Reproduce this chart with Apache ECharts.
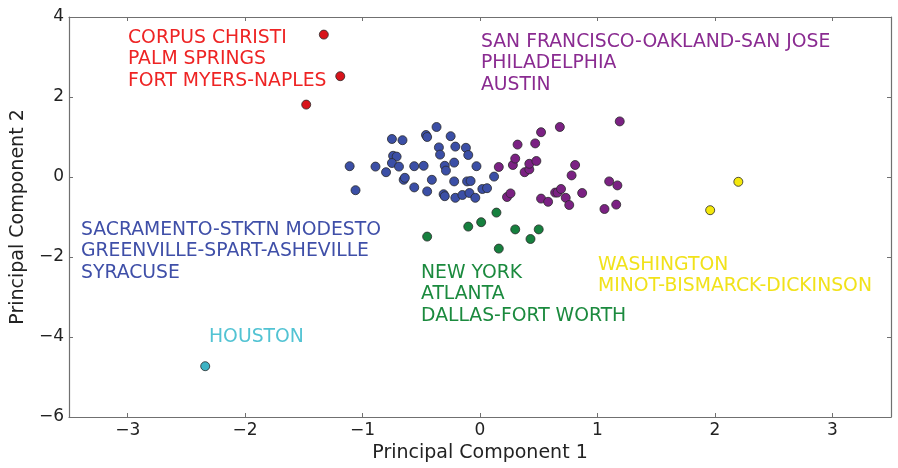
<!DOCTYPE html>
<html>
<head>
<meta charset="utf-8">
<script src="https://cdn.jsdelivr.net/npm/echarts@6/dist/echarts.min.js"></script>
<style>
  html, body { margin: 0; padding: 0; background: #fff; }
  #chart { width: 898px; height: 468px; }
</style>
</head>
<body>
<div id="chart"></div>
<script>
// PCA scores of metro areas, grouped by cluster
const redPts = [[-1.33, 3.56], [-1.19, 2.52], [-1.48, 1.81]];
const cyanPts = [[-2.34, -4.73]];
const yellowPts = [[2.20, -0.12], [1.96, -0.83]];
const bluePts = [
  [-1.11, 0.27], [-1.06, -0.33], [-0.89, 0.26], [-0.80, 0.12], [-0.75, 0.95],
  [-0.66, 0.92], [-0.74, 0.53], [-0.71, 0.51], [-0.75, 0.35], [-0.69, 0.26],
  [-0.65, -0.07], [-0.64, -0.02], [-0.56, 0.27], [-0.56, -0.26], [-0.48, 0.28],
  [-0.46, 1.05], [-0.45, 1.00], [-0.45, -0.36], [-0.41, -0.07], [-0.37, 1.25],
  [-0.35, 0.74], [-0.34, 0.56], [-0.31, -0.43], [-0.30, -0.48], [-0.30, 0.28],
  [-0.29, 0.16], [-0.25, 1.02], [-0.22, 0.36], [-0.22, -0.11], [-0.21, -0.52],
  [-0.21, 0.76], [-0.15, -0.45], [-0.12, 0.73], [-0.10, 0.55], [-0.11, -0.11],
  [-0.08, -0.10], [-0.09, -0.40], [-0.04, -0.52], [-0.03, 0.27], [0.02, -0.30],
  [0.06, -0.28], [0.12, 0.01]
];
const purplePts = [
  [0.16, 0.25], [0.23, -0.50], [0.26, -0.41], [0.28, 0.30], [0.30, 0.46],
  [0.32, 0.81], [0.38, 0.12], [0.42, 0.19], [0.42, 0.33], [0.48, 0.40],
  [0.47, 0.84], [0.52, 1.12], [0.52, -0.54], [0.58, -0.62], [0.64, -0.39],
  [0.66, -0.39], [0.68, 1.25], [0.69, -0.30], [0.73, -0.52], [0.76, -0.70],
  [0.78, 0.04], [0.81, 0.30], [0.87, -0.40], [1.06, -0.80], [1.10, -0.11],
  [1.17, -0.21], [1.16, -0.69], [1.19, 1.39]
];
const greenPts = [
  [0.14, -0.89], [0.01, -1.13], [-0.10, -1.24], [-0.45, -1.49], [0.30, -1.31],
  [0.50, -1.31], [0.43, -1.55], [0.16, -1.79]
];

// Cluster captions
const redNames = ['CORPUS CHRISTI', 'PALM SPRINGS', 'FORT MYERS-NAPLES'];
const purpleNames = ['SAN FRANCISCO-OAKLAND-SAN JOSE', 'PHILADELPHIA', 'AUSTIN'];
const blueNames = ['SACRAMENTO-STKTN MODESTO', 'GREENVILLE-SPART-ASHEVILLE', 'SYRACUSE'];
const greenNames = ['NEW YORK', 'ATLANTA', 'DALLAS-FORT WORTH'];
const yellowNames = ['WASHINGTON', 'MINOT-BISMARCK-DICKINSON'];
const cyanNames = ['HOUSTON'];

const xTicks = [-3, -2, -1, 0, 1, 2, 3];
const yTicks = [-6, -4, -2, 0, 2, 4];

const FONT = 'DejaVu Sans';
const minus = v => String(v).replace('-', '\u2212');

const chart = echarts.init(document.getElementById('chart'), null, { renderer: 'canvas' });

function scatter(data, color) {
  return {
    type: 'scatter',
    data: data,
    symbolSize: 9,
    itemStyle: { color: color, borderColor: '#2a2a2a', borderWidth: 0.8, opacity: 1 },
    xAxisIndex: 0, yAxisIndex: 0,
    silent: true
  };
}

function caption(lines, left, top, color) {
  return {
    type: 'text',
    left: left, top: top,
    style: {
      text: lines.join('\n'),
      fill: color,
      font: '18.8px "' + FONT + '"',
      lineHeight: 21.5
    }
  };
}

const frameAxis = {
  axisLine: { show: true, onZero: false, lineStyle: { color: '#707070', width: 1.2 } },
  axisTick: { show: true, inside: true, length: 4, lineStyle: { color: '#707070' } },
  splitLine: { show: false }
};

chart.setOption({
  animation: false,
  backgroundColor: '#fff',
  grid: { left: 69, right: 7, top: 17, bottom: 45, containLabel: false },
  xAxis: [
    Object.assign({
      type: 'value', min: -3.5, max: 3.5, interval: 1, position: 'bottom',
      name: 'Principal Component 1', nameLocation: 'middle', nameGap: 27,
      nameTextStyle: { fontFamily: FONT, fontSize: 19, color: '#222' },
      axisLabel: {
        fontFamily: FONT, fontSize: 17, color: '#222', margin: 5,
        customValues: xTicks, formatter: minus
      }
    }, frameAxis, { axisTick: Object.assign({}, frameAxis.axisTick, { customValues: xTicks }) }),
    Object.assign({
      type: 'value', min: -3.5, max: 3.5, position: 'top',
      axisLabel: { show: false }
    }, frameAxis, { axisTick: Object.assign({}, frameAxis.axisTick, { customValues: xTicks }) })
  ],
  yAxis: [
    Object.assign({
      type: 'value', min: -6, max: 4, interval: 2, position: 'left',
      name: 'Principal Component 2', nameLocation: 'middle', nameGap: 35,
      nameTextStyle: { fontFamily: FONT, fontSize: 19, color: '#222' },
      axisLabel: { fontFamily: FONT, fontSize: 17, color: '#222', margin: 5, formatter: minus }
    }, frameAxis),
    Object.assign({
      type: 'value', min: -6, max: 4, interval: 2, position: 'right',
      axisLabel: { show: false }
    }, frameAxis)
  ],
  series: [
    scatter(bluePts, '#3b4fa6'),
    scatter(purplePts, '#7b2183'),
    scatter(greenPts, '#16803e'),
    scatter(redPts, '#d8141b'),
    scatter(yellowPts, '#f4e80c'),
    scatter(cyanPts, '#3eb3c4')
  ],
  graphic: [
    caption(redNames, 128, 27, '#ee2424'),
    caption(purpleNames, 481, 31, '#8a2b91'),
    caption(blueNames, 81, 219, '#3f4fa8'),
    caption(greenNames, 421, 262, '#1b8a3e'),
    caption(yellowNames, 598, 254, '#f1e21a'),
    caption(cyanNames, 209, 326, '#52c3d3')
  ]
});
</script>
</body>
</html>
